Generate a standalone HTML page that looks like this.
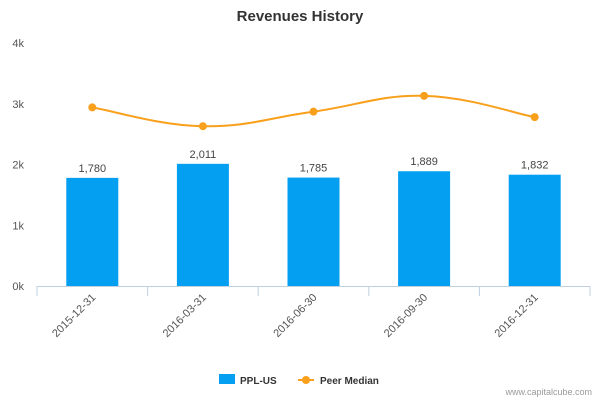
<!DOCTYPE html>
<html><head><meta charset="utf-8"><style>
body{margin:0;background:#fff;font-family:"Liberation Sans",sans-serif}
</style></head><body>
<svg width="600" height="400" font-family="Liberation Sans, sans-serif">
<text x="300" y="21" text-anchor="middle" font-size="15" font-weight="bold" fill="#333">Revenues History</text>
<g id="yaxis"></g><g id="bars"></g><g id="xaxis"></g><g id="line"></g>
<g>
<rect x="219" y="374" width="16" height="10" fill="#049ff1"/>
<text x="240" y="384" font-size="10" font-weight="bold" fill="#333">PPL-US</text>
<line x1="298" y1="380" x2="314" y2="380" stroke="#f8a01c" stroke-width="2"/>
<circle cx="306" cy="380" r="4" fill="#f8a01c"/>
<text x="320" y="384" font-size="10" font-weight="bold" fill="#333">Peer Median</text>
</g>
<text x="592" y="395" text-anchor="end" font-size="9" fill="#999">www.capitalcube.com</text>
</svg>
<script>
const categories=["2015-12-31","2016-03-31","2016-06-30","2016-09-30","2016-12-31"];
const revenues=[1780,2011,1785,1889,1832];
const peerMedian=[2940,2630,2870,3130,2780];
const yTicks=[0,1000,2000,3000,4000];
const NS="http://www.w3.org/2000/svg";
const x0=37,x1=590,yBase=286,yTop=43;
const bw=(x1-x0)/categories.length;
const yS=v=>yBase-(v/4000)*(yBase-yTop);
const xC=i=>x0+bw*(i+0.5);
function mk(t,a,p){const e=document.createElementNS(NS,t);for(const k in a)e.setAttribute(k,a[k]);p.appendChild(e);return e;}
const ya=document.getElementById('yaxis');
yTicks.forEach(v=>{
 if(v>0){const g=mk('line',{x1:x0,x2:x1,y1:yS(v),y2:yS(v),stroke:'#fff'},ya);}
 const t=mk('text',{x:24,y:yS(v)+4,'text-anchor':'end','font-size':11,fill:'#555'},ya);
 
 
 t.textContent=(v/1000)+'k';
});
const bg=document.getElementById('bars');
revenues.forEach((v,i)=>{
 const r=mk('rect',{x:xC(i)-26,y:yS(v),width:52,height:yBase-yS(v),fill:'#049ff1'},bg);
 
 
 const t=mk('text',{x:xC(i),y:yS(v)-6,'text-anchor':'middle','font-size':11,fill:'#444'},bg);
 
 
 t.textContent=v.toLocaleString('en-US');
});
const xa=document.getElementById('xaxis');
mk('line',{x1:x0,x2:x1,y1:yBase+0.5,y2:yBase+0.5,stroke:'#c0d0e0'},xa);
for(let i=0;i<=categories.length;i++){const l=mk('line',{x1:x0+bw*i,x2:x0+bw*i,y1:yBase,y2:yBase+10,stroke:'#c0d0e0'},xa);}
categories.forEach((c,i)=>{
 const x=xC(i)+4,y=yBase+12;
 const t=mk('text',{x:x,y:y,'text-anchor':'end','font-size':11,fill:'#555',transform:`rotate(-45 ${x} ${y})`},xa);
 
 
 t.textContent=c;
});
const lg=document.getElementById('line');
const pts=peerMedian.map((v,i)=>[xC(i),yS(v)]);
let d=`M${pts[0][0]},${pts[0][1]}`;
for(let i=0;i<pts.length-1;i++){
 const p0=pts[Math.max(i-1,0)],p1=pts[i],p2=pts[i+1],p3=pts[Math.min(i+2,pts.length-1)];
 const t=0.2;
 d+=` C${p1[0]+(p2[0]-p0[0])*t},${p1[1]+(p2[1]-p0[1])*t} ${p2[0]-(p3[0]-p1[0])*t},${p2[1]-(p3[1]-p1[1])*t} ${p2[0]},${p2[1]}`;
}
const path=mk('path',{d:d,fill:'none',stroke:'#f8a01c','stroke-width':2},lg);


pts.forEach((p,i)=>{
 const c=mk('circle',{cx:p[0],cy:p[1],r:4,fill:'#f8a01c'},lg);
 
 
});
</script>
</body></html>
